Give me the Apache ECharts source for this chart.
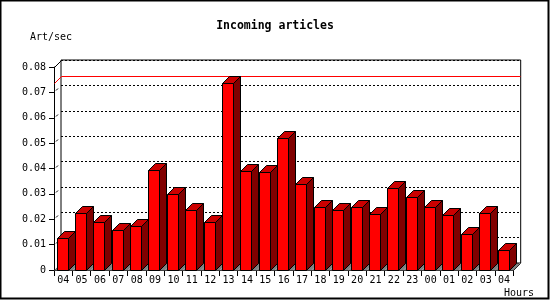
<!DOCTYPE html>
<html><head><meta charset="utf-8">
<script src="https://cdn.jsdelivr.net/npm/echarts@6/dist/echarts.min.js"></script>
<style>html,body{margin:0;padding:0;background:#fff}#c{width:550px;height:300px}</style>
</head><body><div id="c"></div>
<script>
const categories = ['04','05','06','07','08','09','10','11','12','13','14','15','16','17','18','19','20','21','22','23','00','01','02','03','04'];
const values = [0.0125,0.0226,0.0189,0.0158,0.0173,0.0393,0.0300,0.0236,0.0189,0.0736,0.0389,0.0385,0.0521,0.0339,0.0247,0.0235,0.0247,0.0219,0.0322,0.0286,0.0247,0.0215,0.0141,0.0225,0.0078];
const yTicks = [0,0.01,0.02,0.03,0.04,0.05,0.06,0.07,0.08];
const maxValue = Math.max.apply(null, values);

const DX = 7, DY = 7;
const FONT = 'DejaVu Sans Mono';
const chart = echarts.init(document.getElementById('c'), null, {renderer:'canvas'});
const p = v => Math.round(v) + 0.5;

function barItem(params, api) {
  const i = api.value(0), v = api.value(1);
  const base = api.coord([i, 0]);
  const top = api.coord([i, v]);
  const slot = api.size([1, 0])[0];
  const left = base[0] - slot / 2;
  const x0 = p(left + 2.6), x1 = x0 + 11;
  const y0 = p(base[1]), yt = p(top[1]);
  const stroke = {stroke:'#000', lineWidth:1};
  return {type:'group', children:[
    {type:'polygon', shape:{points:[[left, y0],[left+DX, y0-DY],[left+slot+DX, y0-DY],[left+slot, y0]]}, style:{fill:'#808080'}},
    {type:'polygon', shape:{points:[[x1, yt],[x1+DX, yt-DY],[x1+DX, y0-DY],[x1, y0]]}, style:Object.assign({fill:'#800000'}, stroke)},
    {type:'polygon', shape:{points:[[x0, yt],[x0+DX, yt-DY],[x1+DX, yt-DY],[x1, yt]]}, style:Object.assign({fill:'#cc0000'}, stroke)},
    {type:'rect', shape:{x:x0, y:yt, width:x1-x0, height:y0-yt}, style:Object.assign({fill:'#ff0000'}, stroke)}
  ]};
}

function frameItem(params, api) {
  const cs = params.coordSys;
  const v = api.value(1);
  const y = p(api.coord([0, v])[1]);
  const xl = p(cs.x), xr = p(cs.x + cs.width), yt = p(cs.y), yb = p(cs.y + cs.height);
  const black = {stroke:'#000', lineWidth:1, fill:null};
  const children = [
    {type:'polyline', shape:{points:[[xl, y],[xl+DX, y-DY],[xr+DX, y-DY]]}, style:{stroke:'#ff0000', lineWidth:1, fill:null}},
    {type:'line', shape:{x1:xl, y1:yt, x2:xl+DX, y2:yt-DY}, style:black},
    {type:'line', shape:{x1:xl, y1:yb, x2:xl+DX, y2:yb-DY}, style:black},
    {type:'line', shape:{x1:xr, y1:yb, x2:xr+DX, y2:yb-DY}, style:black}
  ];
  yTicks.slice(1, -1).forEach(t => {
    const ty = p(api.coord([0, t])[1]);
    children.push({type:'line', shape:{x1:xl+1.5, y1:ty-2, x2:xl+3.5, y2:ty-4}, style:black});
  });
  return {type:'group', children};
}

const axisCommonY = {
  type:'value', min:0, max:0.08, interval:0.01
};

chart.setOption({
  animation:false,
  backgroundColor:'#fff',
  title:{text:'Incoming articles', left:'center', top:20, padding:0, textStyle:{fontFamily:FONT, fontSize:11.5, fontWeight:'bold', color:'#000'}},
  graphic:[
    {type:'rect', shape:{x:0.5, y:0.5, width:548, height:298}, style:{fill:null, stroke:'#000', lineWidth:2}, silent:true},
    {type:'text', left:30, top:32, style:{text:'Art/sec', font:'10px "DejaVu Sans Mono"', fill:'#000'}},
    {type:'text', left:504, top:288, style:{text:'Hours', font:'10px "DejaVu Sans Mono"', fill:'#000'}}
  ],
  grid:[
    {left:54, right:36.7, top:67, bottom:30, show:false},
    {left:61, right:29.3, top:60, bottom:37, show:true, borderColor:'#000', borderWidth:1, backgroundColor:'transparent'}
  ],
  xAxis:[
    {type:'category', gridIndex:0, data:categories, boundaryGap:true,
     axisLine:{lineStyle:{color:'#000', width:1}},
     axisTick:{show:true, length:6, lineStyle:{color:'#000'}},
     axisLabel:{color:'#000', fontFamily:FONT, fontSize:10, margin:5, interval:0}},
    {type:'category', gridIndex:1, data:categories, boundaryGap:true,
     axisLine:{show:false}, axisTick:{show:false}, axisLabel:{show:false}}
  ],
  yAxis:[
    Object.assign({gridIndex:0,
     axisLine:{show:true, lineStyle:{color:'#000', width:1}},
     axisTick:{show:true, length:5, lineStyle:{color:'#000'}},
     axisLabel:{color:'#000', fontFamily:FONT, fontSize:10, margin:8,
       formatter: v => { const i = yTicks.findIndex(t => Math.abs(t - v) < 1e-9); return i < 0 ? '' : (i === 0 ? '0' : yTicks[i].toFixed(2)); }},
     splitLine:{show:false}}, axisCommonY),
    Object.assign({gridIndex:1,
     axisLine:{show:false}, axisTick:{show:false}, axisLabel:{show:false},
     splitLine:{show:true, lineStyle:{color:'#000', width:1, type:[2,2]}}}, axisCommonY)
  ],
  series:[
    {type:'custom', xAxisIndex:0, yAxisIndex:0, renderItem:frameItem, data:[[0, maxValue]], z:2, silent:true, clip:false},
    {type:'custom', xAxisIndex:0, yAxisIndex:0, renderItem:barItem, data:values.map((v,i)=>[i,v]), z:3, silent:true, clip:false}
  ]
});
</script></body></html>
